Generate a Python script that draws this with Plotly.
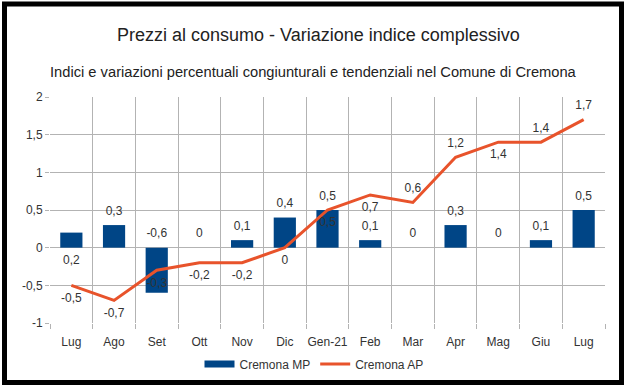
import plotly.graph_objects as go

# ---- data ----
months = ["Lug", "Ago", "Set", "Ott", "Nov", "Dic", "Gen-21", "Feb", "Mar", "Apr", "Mag", "Giu", "Lug"]
cremona_mp = [0.2, 0.3, -0.6, 0, 0.1, 0.4, 0.5, 0.1, 0, 0.3, 0, 0.1, 0.5]
cremona_ap = [-0.5, -0.7, -0.3, -0.2, -0.2, 0, 0.5, 0.7, 0.6, 1.2, 1.4, 1.4, 1.7]
y_ticks = [-1, -0.5, 0, 0.5, 1, 1.5, 2]

# ---- label placement (style) ----
mp_label_pos = ["bottom center"] + ["top center"] * 12
ap_label_pos = ["bottom center"] * 8 + ["top center", "top center", "bottom center", "top center", "top center"]

W, H = 630, 390
ML, MR, MT, MB = 50, 25, 97, 67
PW, PH = W - ML - MR, H - MT - MB

def fmt(v):
    return ("%g" % v).replace(".", ",")

x = list(range(len(months)))
FONT = "Liberation Sans, Arial, sans-serif"
TXT = "#333333"
BLUE = "#004586"
ORANGE = "#e8532b"

# label anchor: top labels sit above the bar end / zero line, bottom labels below
mp_label_y = [max(v, 0) if p.startswith("top") else min(v, 0) for v, p in zip(cremona_mp, mp_label_pos)]

fig = go.Figure()
fig.add_trace(go.Bar(x=x, y=cremona_mp, name="Cremona MP", marker=dict(color=BLUE, line=dict(width=0)),
                     width=0.52, showlegend=False))
fig.add_trace(go.Scatter(x=x, y=cremona_ap, name="Cremona AP", mode="lines",
                         line=dict(color=ORANGE, width=3), showlegend=False))
# bar labels
fig.add_trace(go.Scatter(x=x, y=mp_label_y, mode="markers+text",
                         marker=dict(size=10, color="rgba(0,0,0,0)"),
                         text=[fmt(v) for v in cremona_mp], textposition=mp_label_pos,
                         textfont=dict(size=12, color=TXT, family=FONT), showlegend=False, hoverinfo="skip"))
# line labels
fig.add_trace(go.Scatter(x=x, y=cremona_ap, mode="markers+text",
                         marker=dict(size=10, color="rgba(0,0,0,0)"),
                         text=[fmt(v) for v in cremona_ap], textposition=ap_label_pos,
                         textfont=dict(size=12, color=TXT, family=FONT), showlegend=False, hoverinfo="skip"))
# legend entries (wide rectangle for bars, thin line for the line series)
fig.add_trace(go.Scatter(x=[None], y=[None], mode="lines", name="Cremona MP",
                         line=dict(color=BLUE, width=7), hoverinfo="skip"))
fig.add_trace(go.Scatter(x=[None], y=[None], mode="lines", name="Cremona AP",
                         line=dict(color=ORANGE, width=3), hoverinfo="skip"))

GRID = "#b3b3b3"
fig.update_layout(
    width=W, height=H,
    margin=dict(l=ML, r=MR, t=MT, b=MB, autoexpand=False),
    paper_bgcolor="white", plot_bgcolor="white",
    separators=", ",
    font=dict(family=FONT, size=12, color=TXT),
    xaxis=dict(range=[-0.5, len(months) - 0.5], tickmode="array", tickvals=x, ticktext=months,
               showgrid=False, zeroline=False, ticks="outside", ticklen=8, tickcolor="rgba(0,0,0,0)",
               showline=False, automargin=False, tickfont=dict(size=12, color=TXT),
               minor=dict(tickmode="linear", tick0=-0.5, dtick=1, showgrid=True, gridcolor=GRID,
                          gridwidth=1, ticks="outside", ticklen=5, tickcolor=GRID)),
    yaxis=dict(range=[-1, 2], tickmode="array", tickvals=y_ticks, ticktext=[fmt(v) for v in y_ticks],
               showgrid=True, gridcolor=GRID, gridwidth=1, zeroline=True, zerolinecolor=GRID,
               zerolinewidth=1, ticks="outside", ticklen=4, tickcolor=GRID, showline=False,
               automargin=False, tickfont=dict(size=12, color=TXT)),
    legend=dict(orientation="h", xref="container", x=314 / W, xanchor="center", yref="container",
                y=1 - 364 / H, yanchor="middle", font=dict(size=12, color=TXT),
                bgcolor="rgba(0,0,0,0)", itemwidth=30),
    showlegend=True,
)

def px_to_paper(px, py):
    return (px - ML) / PW, 1 - (py - MT) / PH

x0, y0 = px_to_paper(4.5, 4)
x1, y1 = px_to_paper(621.5, 382.5)
fig.add_shape(type="rect", xref="paper", yref="paper", x0=x0, y0=y1, x1=x1, y1=y0,
              line=dict(color="black", width=5), fillcolor="rgba(0,0,0,0)", layer="above")

tx, ty = px_to_paper(318, 35)
fig.add_annotation(text="Prezzi al consumo - Variazione indice complessivo", xref="paper", yref="paper",
                   x=tx, y=ty, xanchor="center", yanchor="middle", showarrow=False,
                   font=dict(size=18, color="#222222", family=FONT))
sx, sy = px_to_paper(313, 72)
fig.add_annotation(text="Indici e variazioni percentuali congiunturali e tendenziali nel Comune di Cremona",
                   xref="paper", yref="paper", x=sx, y=sy, xanchor="center", yanchor="middle",
                   showarrow=False, font=dict(size=14.7, color="#222222", family=FONT))

fig.write_html("out.html", config={"displayModeBar": False},
               post_script="document.body.style.margin='0px';")
